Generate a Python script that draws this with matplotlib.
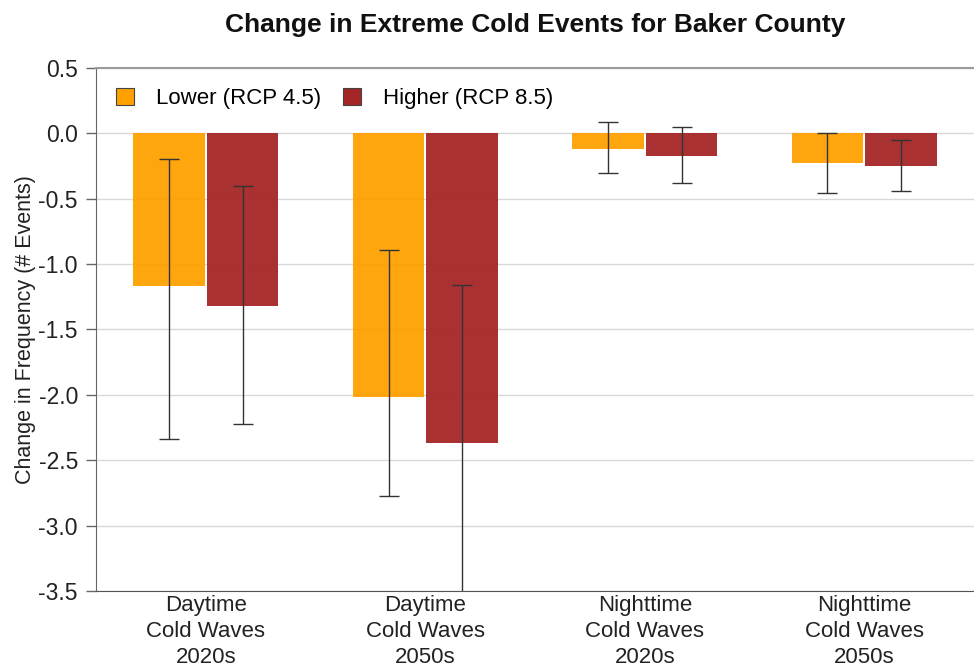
import matplotlib
matplotlib.use("Agg")
import matplotlib.pyplot as plt
import numpy as np

plt.rcParams['font.family'] = ['Liberation Sans', 'DejaVu Sans']

categories = ["Daytime\nCold Waves\n2020s", "Daytime\nCold Waves\n2050s",
              "Nighttime\nCold Waves\n2020s", "Nighttime\nCold Waves\n2050s"]
lower_vals = [-1.17, -2.02, -0.12, -0.23]
lower_hi = [-0.20, -0.89, 0.09, 0.00]
lower_lo = [-2.34, -2.77, -0.30, -0.46]
higher_vals = [-1.32, -2.37, -0.17, -0.25]
higher_hi = [-0.40, -1.16, 0.05, -0.05]
higher_lo = [-2.22, -3.60, -0.38, -0.44]
yticks = [0.5, 0.0, -0.5, -1.0, -1.5, -2.0, -2.5, -3.0, -3.5]

c_low = "#FFA000"
c_high = "#A52626"

fig = plt.figure(figsize=(9.74, 6.66), dpi=100)
ax = fig.add_axes([0.0986, 0.1126, 0.9014, 0.7854])

x = np.arange(len(categories))
w = 0.325
gap = 0.005

def errs(vals, hi, lo):
    v = np.array(vals)
    return [v - np.array(lo), np.array(hi) - v]

ax.bar(x - w / 2 - gap, lower_vals, w, color=c_low, alpha=0.95, zorder=2,
       label="Lower (RCP 4.5)", edgecolor='none')
ax.bar(x + w / 2 + gap, higher_vals, w, color=c_high, alpha=0.95, zorder=2,
       label="Higher (RCP 8.5)", edgecolor='none')
ax.errorbar(x - w / 2 - gap, lower_vals, yerr=errs(lower_vals, lower_hi, lower_lo),
            fmt='none', ecolor='#333333', elinewidth=1, capsize=7, capthick=1, zorder=3)
ax.errorbar(x + w / 2 + gap, higher_vals, yerr=errs(higher_vals, higher_hi, higher_lo),
            fmt='none', ecolor='#333333', elinewidth=1, capsize=7, capthick=1, zorder=3)

ax.set_xlim(-0.5, 3.5)
ax.set_ylim(-3.5, 0.5)
ax.set_yticks(yticks)
ax.set_yticklabels(["%.1f" % t for t in yticks], fontsize=16.5, color='#222222')
ax.set_xticks(x)
ax.set_xticklabels(categories, fontsize=16, color='#222222', linespacing=1.3)
ax.tick_params(axis='x', length=0, pad=3)
ax.tick_params(axis='y', length=7, color='#666666', width=1, pad=6)
ax.yaxis.grid(True, color='#d8d8d8', linewidth=1, zorder=0)
ax.set_axisbelow(True)

ax.spines['right'].set_visible(False)
ax.spines['top'].set_color('#9a9a9a')
ax.spines['top'].set_linewidth(1.5)
ax.spines['left'].set_color('#666666')
ax.spines['bottom'].set_color('#555555')

ax.set_ylabel("Change in Frequency (# Events)", fontsize=15.5, color='#222222', labelpad=2)
ax.set_title("Change in Extreme Cold Events for Baker County", fontsize=19,
             fontweight='bold', pad=26, color='#111111')

leg = ax.legend(loc='upper left', ncol=2, frameon=False, fontsize=16,
                bbox_to_anchor=(0.0, 1.0), handlelength=0.8, handleheight=0.8,
                columnspacing=1.0, handletextpad=1.0, borderaxespad=0.5)
for h in leg.legend_handles:
    h.set_edgecolor('#444444')
    h.set_linewidth(0.8)
    h.set_alpha(1)

fig.savefig("out.png", dpi=100)
